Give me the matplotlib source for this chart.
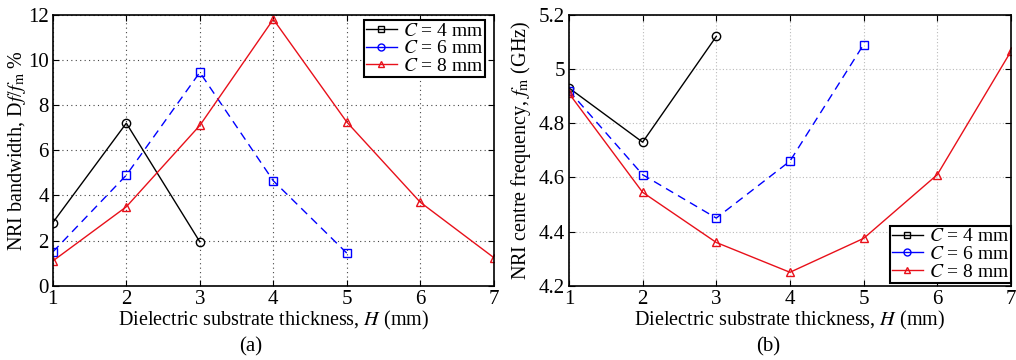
import matplotlib
matplotlib.use("Agg")
import matplotlib.pyplot as plt
from matplotlib.lines import Line2D

plt.rcParams['font.family'] = ['Liberation Serif', 'DejaVu Serif']
plt.rcParams['mathtext.fontset'] = 'stix'
plt.rcParams['font.size'] = 14.5

H4 = [1, 2, 3]
H6 = [1, 2, 3, 4, 5]
H8 = [1, 2, 3, 4, 5, 6, 7]

bw4 = [2.8, 7.2, 1.95]
bw6 = [1.5, 4.9, 9.45, 4.65, 1.45]
bw8 = [1.1, 3.5, 7.1, 11.8, 7.25, 3.7, 1.25]

fc4 = [4.93, 4.73, 5.12]
fc6 = [4.92, 4.61, 4.45, 4.66, 5.09]
fc8 = [4.91, 4.545, 4.36, 4.25, 4.375, 4.61, 5.065]

labels = ['$C$ = 4 mm', '$C$ = 6 mm', '$C$ = 8 mm']
red = '#e8101a'

fig = plt.figure(figsize=(10.16, 3.6), dpi=100)
ax1 = fig.add_axes([0.052, 0.206, 0.434, 0.753])
ax2 = fig.add_axes([0.560, 0.206, 0.435, 0.753])

mk = dict(markersize=6, markerfacecolor='none', linewidth=1)

# legend markers do not match the plotted markers in the original figure
handles = [Line2D([], [], color='k', marker='s', markersize=4, markerfacecolor='none', lw=1),
           Line2D([], [], color='b', marker='o', markersize=5, markerfacecolor='none', lw=1),
           Line2D([], [], color=red, marker='^', markersize=5, markerfacecolor='none', lw=1)]
legkw = dict(fancybox=False, edgecolor='k', framealpha=1, handlelength=1.6,
             handletextpad=0.3, borderpad=0.1, labelspacing=0.0, borderaxespad=0,
             fontsize=14)

ax1.plot(H4, bw4, color='k', marker='o', markeredgecolor='k', **mk)
ax1.plot(H6, bw6, color='b', ls=(0, (6, 4)), marker='s', markeredgecolor='b', **mk)
ax1.plot(H8, bw8, color=red, marker='^', markeredgecolor=red, **mk)
ax1.set_xlim(1, 7)
ax1.set_ylim(0, 12)
ax1.set_xticks(range(1, 8))
ax1.set_yticks(range(0, 13, 2))
ax1.grid(True, ls=(0, (1, 3)), color='#444444', lw=0.8)
ax1.set_ylabel(r'NRI bandwidth, D$f$/$f_{\mathrm{m}}$ %', labelpad=0)
ax1.set_xlabel(r'Dielectric substrate thickness, $H$ (mm)', labelpad=0)
leg1 = ax1.legend(handles, labels, loc='upper right', bbox_to_anchor=(0.98, 0.98), **legkw)
leg1.get_frame().set_linewidth(1.5)

ax2.plot(H4, fc4, color='k', marker='o', markeredgecolor='k', **mk)
ax2.plot(H6, fc6, color='b', ls=(0, (6, 4)), marker='s', markeredgecolor='b', **mk)
ax2.plot(H8, fc8, color=red, marker='^', markeredgecolor=red, **mk)
ax2.set_xlim(1, 7)
ax2.set_ylim(4.2, 5.2)
ax2.set_xticks(range(1, 8))
ax2.set_yticks([4.2, 4.4, 4.6, 4.8, 5.0, 5.2])
ax2.set_yticklabels(['4.2', '4.4', '4.6', '4.8', '5', '5.2'])
ax2.grid(True, ls=(0, (1, 2)), color='#bbbbbb', lw=0.8)
ax2.set_ylabel(r'NRI centre frequency, $f_{\mathrm{m}}$ (GHz)', labelpad=4)
ax2.set_xlabel(r'Dielectric substrate thickness, $H$ (mm)', labelpad=0)
leg2 = ax2.legend(handles, labels, loc='lower right', bbox_to_anchor=(1.0, 0.012), **legkw)
leg2.get_frame().set_linewidth(1.5)

for ax in (ax1, ax2):
    ax.tick_params(direction='in', top=True, right=True, length=4, pad=3, labelsize=15)
    ax.set_axisbelow(True)
    for s in ax.spines.values():
        s.set_linewidth(1.2)

fig.text(0.247, 0.025, '(a)', ha='center', fontsize=15)
fig.text(0.756, 0.025, '(b)', ha='center', fontsize=15)

fig.savefig('out.png', dpi=100)
